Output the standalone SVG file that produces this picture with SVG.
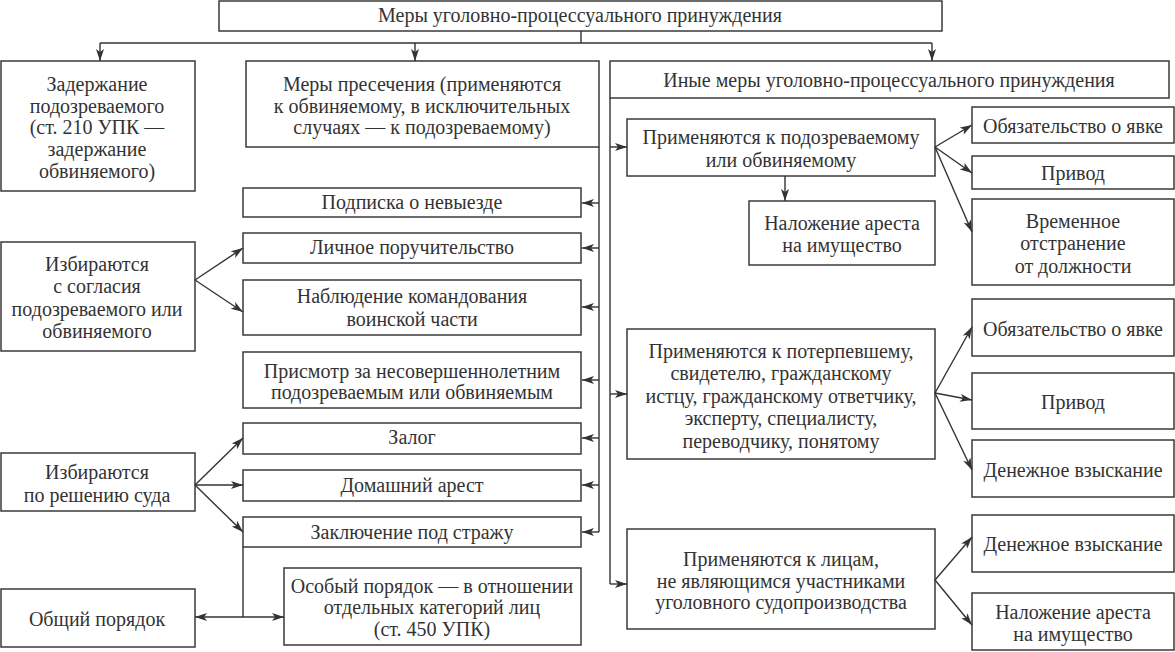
<svg xmlns="http://www.w3.org/2000/svg" width="1175" height="652" viewBox="0 0 1175 652">
<style>
.box{fill:#fff;stroke:#3a3a3a;stroke-width:1.5}
.t{font-family:"Liberation Serif","Times New Roman",serif;font-size:20px;fill:#333;text-anchor:middle}
.c path{stroke:#333;stroke-width:1.4;fill:none}
.a{marker-end:url(#ah)}
</style>
<defs>
<marker id="ah" viewBox="0 0 12 8" refX="12" refY="4" markerWidth="12" markerHeight="8" markerUnits="userSpaceOnUse" orient="auto-start-reverse">
<path d="M0,0 L12,4 L0,8 L3,4 z" fill="#333"/>
</marker>
</defs>
<rect width="1175" height="652" fill="#fff"/>

<g id="top"><rect class="box" x="219" y="1" width="723" height="30"/><text class="t" x="580" y="22">Меры уголовно-процессуального принуждения</text></g>

<g id="zaderzhanie"><rect class="box" x="1" y="61" width="194" height="130"/>
<text class="t" x="97" y="91">Задержание</text><text class="t" x="97" y="113">подозреваемого</text><text class="t" x="97" y="134">(ст. 210 УПК —</text><text class="t" x="97" y="156">задержание</text><text class="t" x="97" y="178">обвиняемого)</text></g>

<g id="presechenie"><rect class="box" x="246" y="61" width="353" height="86"/>
<text class="t" x="422" y="91">Меры пресечения (применяются</text><text class="t" x="422" y="113">к обвиняемому, в исключительных</text><text class="t" x="422" y="134">случаях — к подозреваемому)</text></g>

<g id="inye"><rect class="box" x="610" y="61" width="559" height="37"/><text class="t" x="889" y="87">Иные меры уголовно-процессуального принуждения</text></g>

<g id="podpiska"><rect class="box" x="243" y="188" width="338" height="29"/><text class="t" x="412" y="209">Подписка о невыезде</text></g>
<g id="poruch"><rect class="box" x="243" y="233" width="338" height="30"/><text class="t" x="412" y="254">Личное поручительство</text></g>
<g id="nabl"><rect class="box" x="243" y="280" width="338" height="55"/><text class="t" x="412" y="303">Наблюдение командования</text><text class="t" x="412" y="326">воинской части</text></g>
<g id="prismotr"><rect class="box" x="243" y="352" width="338" height="56"/><text class="t" x="412" y="378">Присмотр за несовершеннолетним</text><text class="t" x="412" y="399">подозреваемым или обвиняемым</text></g>
<g id="zalog"><rect class="box" x="243" y="423" width="338" height="31"/><text class="t" x="412" y="444">Залог</text></g>
<g id="domashniy"><rect class="box" x="243" y="470" width="338" height="31"/><text class="t" x="412" y="492">Домашний арест</text></g>
<g id="zakl"><rect class="box" x="243" y="517" width="338" height="30"/><text class="t" x="412" y="539">Заключение под стражу</text></g>
<g id="osobyi"><rect class="box" x="284" y="568" width="297" height="77"/><text class="t" x="432" y="593">Особый порядок — в отношении</text><text class="t" x="432" y="614">отдельных категорий лиц</text><text class="t" x="432" y="636">(ст. 450 УПК)</text></g>
<g id="obshiy"><rect class="box" x="1" y="589" width="194" height="58"/><text class="t" x="97" y="626">Общий порядок</text></g>

<g id="soglasie"><rect class="box" x="1" y="242" width="194" height="109"/>
<text class="t" x="97" y="271">Избираются</text><text class="t" x="97" y="293">с согласия</text><text class="t" x="97" y="316">подозреваемого или</text><text class="t" x="97" y="338">обвиняемого</text></g>
<g id="sud"><rect class="box" x="1" y="453" width="194" height="58"/><text class="t" x="97" y="479">Избираются</text><text class="t" x="97" y="502">по решению суда</text></g>

<g id="podozr"><rect class="box" x="627" y="119" width="308" height="57"/><text class="t" x="781" y="144">Применяются к подозреваемому</text><text class="t" x="781" y="167">или обвиняемому</text></g>
<g id="arest1"><rect class="box" x="749" y="201" width="186" height="64"/><text class="t" x="842" y="230">Наложение ареста</text><text class="t" x="842" y="252">на имущество</text></g>
<g id="yavka1"><rect class="box" x="972" y="107" width="202" height="36"/><text class="t" x="1073" y="133">Обязательство о явке</text></g>
<g id="privod1"><rect class="box" x="972" y="156" width="202" height="33"/><text class="t" x="1073" y="180">Привод</text></g>
<g id="otstr"><rect class="box" x="972" y="199" width="202" height="86"/><text class="t" x="1073" y="228">Временное</text><text class="t" x="1073" y="250">отстранение</text><text class="t" x="1073" y="273">от должности</text></g>

<g id="poterp"><rect class="box" x="627" y="329" width="308" height="130"/>
<text class="t" x="781" y="358">Применяются к потерпевшему,</text><text class="t" x="781" y="380">свидетелю, гражданскому</text><text class="t" x="781" y="403">истцу, гражданскому ответчику,</text><text class="t" x="781" y="425">эксперту, специалисту,</text><text class="t" x="781" y="448">переводчику, понятому</text></g>
<g id="yavka2"><rect class="box" x="972" y="299" width="202" height="57"/><text class="t" x="1073" y="336">Обязательство о явке</text></g>
<g id="privod2"><rect class="box" x="972" y="373" width="202" height="56"/><text class="t" x="1073" y="409">Привод</text></g>
<g id="vzysk1"><rect class="box" x="972" y="440" width="202" height="57"/><text class="t" x="1073" y="477">Денежное взыскание</text></g>

<g id="litsa"><rect class="box" x="627" y="529" width="308" height="100"/><text class="t" x="781" y="566">Применяются к лицам,</text><text class="t" x="781" y="588">не являющимся участниками</text><text class="t" x="781" y="609">уголовного судопроизводства</text></g>
<g id="vzysk2"><rect class="box" x="972" y="515" width="202" height="57"/><text class="t" x="1073" y="551">Денежное взыскание</text></g>
<g id="arest2"><rect class="box" x="972" y="593" width="202" height="57"/><text class="t" x="1073" y="619">Наложение ареста</text><text class="t" x="1073" y="641">на имущество</text></g>

<g id="connectors" class="c">
<path d="M581,31 V43 M100,43 H932"/>
<path class="a" d="M100,43 V61"/>
<path class="a" d="M415,43 V61"/>
<path class="a" d="M932,43 V61"/>
<path d="M599,147 V532"/>
<path class="a" d="M599,203 H582"/>
<path class="a" d="M599,248 H582"/>
<path class="a" d="M599,307 H582"/>
<path class="a" d="M599,380 H582"/>
<path class="a" d="M599,438 H582"/>
<path class="a" d="M599,485 H582"/>
<path class="a" d="M599,532 H582"/>
<path class="a" d="M195,280 L243,248"/>
<path class="a" d="M195,280 L243,312"/>
<path class="a" d="M195,485 L243,438"/>
<path class="a" d="M195,485 H243"/>
<path class="a" d="M195,485 L243,532"/>
<path d="M243,547 V617"/>
<path d="M195,617 H284" marker-start="url(#ah)" marker-end="url(#ah)"/>
<path d="M610,98 V584"/>
<path class="a" d="M610,147 H627"/>
<path class="a" d="M610,394 H627"/>
<path class="a" d="M610,584 H627"/>
<path class="a" d="M785,176 V201"/>
<path class="a" d="M935,147 L972,125"/>
<path class="a" d="M935,147 L972,173"/>
<path class="a" d="M935,147 L972,232"/>
<path class="a" d="M935,393 L972,327"/>
<path class="a" d="M935,393 L972,400"/>
<path class="a" d="M935,393 L972,470"/>
<path class="a" d="M935,580 L972,537"/>
<path class="a" d="M935,580 L972,625"/>
</g>
</svg>
